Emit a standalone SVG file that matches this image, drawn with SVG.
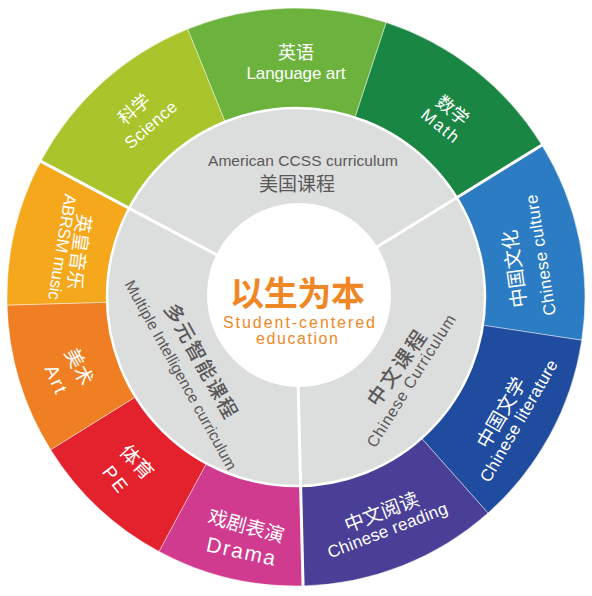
<svg xmlns="http://www.w3.org/2000/svg" width="592" height="596" viewBox="0 0 592 596">
<style>
text{dominant-baseline:central;text-anchor:middle}
.cn{font-family:"Noto Sans CJK SC","Noto Sans",sans-serif}
.en{font-family:"Liberation Sans",Arial,sans-serif}
.w{fill:#fff}
.g{fill:#5a5858}
.o{fill:#ef8726}
.seg{stroke:#fff;stroke-width:0.8;stroke-opacity:0.55}
.div{stroke:#fff;stroke-width:3;fill:none}
.lbl{font-size:18px;font-weight:400}
.sub{font-size:17px}
</style>
<rect width="592" height="596" fill="#fff"/>
<g id="seg-science">
<path class="seg" fill="#a9c52b" d="M296 297L40.83 161.32A289 289 0 0 1 187.74 29.05Z"/>
<text class="cn w lbl" transform="translate(133 108) rotate(-41)">科学</text>
<text class="en w sub" transform="translate(151 125) rotate(-41)" textLength="63">Science</text>
</g>
<g id="seg-language">
<path class="seg" fill="#6cb33e" d="M296 297L187.74 29.05A289 289 0 0 1 386.27 22.46Z"/>
<text class="cn w lbl" x="296" y="51">英语</text>
<text class="en w sub" x="296" y="73" textLength="99">Language art</text>
</g>
<g id="seg-math">
<path class="seg" fill="#1a8643" d="M296 297L386.27 22.46A289 289 0 0 1 541.88 145.14Z"/>
<text class="cn w lbl" transform="translate(453.5 109) rotate(39)">数学</text>
<text class="en w sub" transform="translate(440 126) rotate(39)" textLength="43">Math</text>
</g>
<g id="seg-culture">
<path class="seg" fill="#2c7cc3" d="M296 297L541.88 145.14A289 289 0 0 1 581.75 340.22Z"/>
<text class="cn w lbl" style="font-size:19.5px" transform="translate(513 269) rotate(-98)">中国文化</text>
<text class="en w sub" transform="translate(541 255) rotate(-99)" textLength="122">Chinese culture</text>
</g>
<g id="seg-literature">
<path class="seg" fill="#1f4c9f" d="M296 297L581.75 340.22A289 289 0 0 1 487.98 513.02Z"/>
<text class="cn w lbl" style="font-size:19.5px" transform="translate(500 412) rotate(-60)">中国文学</text>
<text class="en w sub" transform="translate(519 421) rotate(-60)" textLength="138">Chinese literature</text>
</g>
<g id="seg-reading">
<path class="seg" fill="#4a3f97" d="M296 297L487.98 513.02A289 289 0 0 1 303.06 585.91Z"/>
<text class="cn w lbl" style="font-size:19.5px" transform="translate(381 510.5) rotate(-21)">中文阅读</text>
<text class="en w sub" transform="translate(387.5 530.5) rotate(-21)" textLength="127">Chinese reading</text>
</g>
<g id="seg-drama">
<path class="seg" fill="#d03b8f" d="M296 297L303.06 585.91A289 289 0 0 1 158.99 551.46Z"/>
<text class="cn w lbl" style="font-size:19.5px" transform="translate(246.5 524.5) rotate(15)">戏剧表演</text>
<text class="en w" style="font-size:21px" transform="translate(241 551) rotate(12)" textLength="70">Drama</text>
</g>
<g id="seg-pe">
<path class="seg" fill="#e4222e" d="M296 297L158.99 551.46A289 289 0 0 1 50.65 449.72Z"/>
<text class="cn w lbl" style="font-size:19.5px" transform="translate(138 461) rotate(47)">体育</text>
<text class="en w" style="font-size:19px" transform="translate(115 479) rotate(52)" textLength="28">PE</text>
</g>
<g id="seg-art">
<path class="seg" fill="#ef7f22" d="M296 297L50.65 449.72A289 289 0 0 1 7.11 305.07Z"/>
<text class="cn w lbl" style="font-size:19.5px" transform="translate(80.5 366) rotate(63)">美术</text>
<text class="en w" style="font-size:19px" transform="translate(56 379) rotate(66)" textLength="29">Art</text>
</g>
<g id="seg-abrsm">
<path class="seg" fill="#f5a81b" d="M296 297L7.11 305.07A289 289 0 0 1 40.83 161.32Z"/>
<text class="cn w lbl" style="font-size:19px" transform="translate(81 252) rotate(98)">英皇音乐</text>
<text class="en w sub" transform="translate(62 247) rotate(99)" textLength="107">ABRSM music</text>
</g>
<g id="inner-ring">
<circle cx="296" cy="297" r="189" fill="#dcdddd" stroke="#fff" stroke-width="2.5"/>
</g>
<g id="dividers">
<line class="div" x1="296" y1="297" x2="38.18" y2="159.91"/>
<line class="div" x1="296" y1="297" x2="544.44" y2="143.56"/>
<line class="div" x1="296" y1="297" x2="303.13" y2="588.91"/>
</g>
<g id="ring-american">
<text class="en g" style="font-size:15.5px" x="303" y="160.5" textLength="190">American CCSS curriculum</text>
<text class="cn g" style="font-size:19px" x="297" y="182.5">美国课程</text>
</g>
<g id="ring-multiple">
<text class="cn g" style="font-size:20px;font-weight:500" transform="translate(202 360) rotate(61)" textLength="128">多元智能课程</text>
<text class="en g" style="font-size:15.5px" transform="translate(181 375) rotate(61)" textLength="214">Multiple Intelligence curriculum</text>
</g>
<g id="ring-chinese">
<text class="cn g" style="font-size:20px;font-weight:500" transform="translate(395.5 367.5) rotate(-55)" textLength="87">中文课程</text>
<text class="en g" style="font-size:16px" transform="translate(411 381) rotate(-58)" textLength="153">Chinese Curriculum</text>
</g>
<g id="center">
<circle cx="299" cy="295" r="92" fill="#fff"/>
<text class="cn o" style="font-size:34px;font-weight:700" x="297.5" y="291" textLength="135">以生为本</text>
<text class="en o" style="font-size:16px" x="299" y="322.5" textLength="152">Student-centered</text>
<text class="en o" style="font-size:16px" x="297" y="338.5" textLength="82">education</text>
</g>
</svg>
